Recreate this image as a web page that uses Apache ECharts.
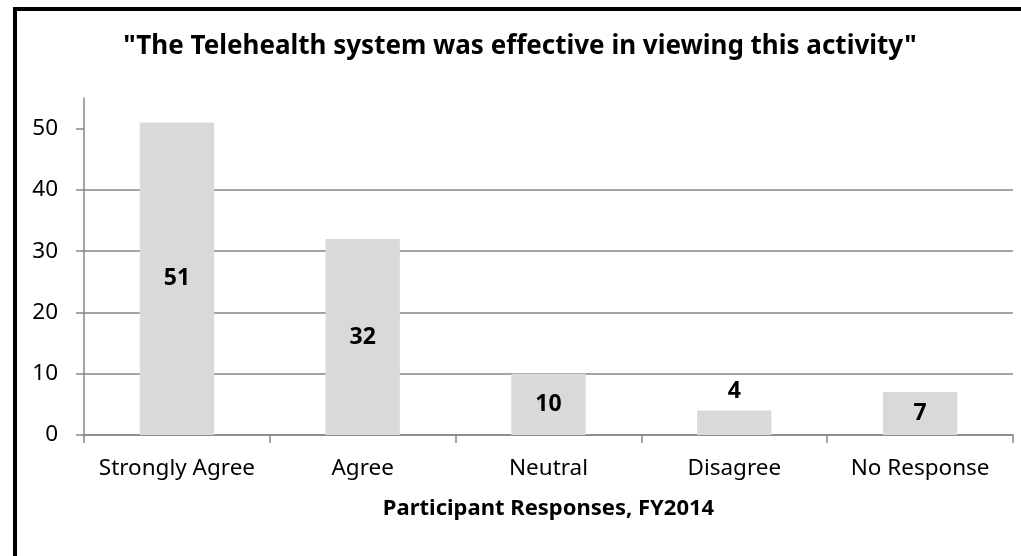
<!DOCTYPE html>
<html>
<head>
<meta charset="utf-8">
<script src="https://cdn.jsdelivr.net/npm/echarts@6/dist/echarts.min.js"></script>
<style>
html,body{margin:0;padding:0;background:#fff;overflow:hidden;}
#frame{position:absolute;left:13px;top:7px;width:1100px;height:600px;border-left:4px solid #000;border-top:4px solid #000;}
#chart{position:absolute;left:0;top:0;width:1021px;height:556px;}
</style>
</head>
<body>
<div id="frame"></div>
<div id="chart"></div>
<script>
const titleText = '"The Telehealth system was effective in viewing this activity"';
const xAxisName = 'Participant Responses, FY2014';
const categories = ['Strongly Agree', 'Agree', 'Neutral', 'Disagree', 'No Response'];
const values = [51, 32, 10, 4, 7];
const labelPositions = ['inside', 'inside', 'inside', 'top', 'inside'];
const yTicks = [0, 10, 20, 30, 40, 50];

const FONT = 'Noto Sans';
const chart = echarts.init(document.getElementById('chart'), null, {renderer: 'canvas'});
chart.setOption({
  backgroundColor: 'transparent',
  animation: false,
  title: {
    text: titleText,
    left: 515, top: 29, textAlign: 'center',
    textStyle: {fontFamily: FONT, fontSize: 26, fontWeight: 'bold', color: '#000'}
  },
  grid: {left: 84, right: 8, top: 98, bottom: 121, containLabel: false},
  xAxis: {
    type: 'category',
    data: categories,
    name: xAxisName,
    nameLocation: 'middle',
    nameGap: 63,
    nameTextStyle: {fontFamily: FONT, fontSize: 22, fontWeight: 'bold', color: '#000'},
    axisLine: {show: true, lineStyle: {color: '#868686', width: 1.5}},
    axisTick: {show: true, length: 8, alignWithLabel: false, lineStyle: {color: '#868686', width: 1.5}},
    axisLabel: {fontFamily: FONT, fontSize: 22.5, color: '#000', margin: 22, interval: 0},
    splitLine: {show: false}
  },
  yAxis: {
    type: 'value',
    min: 0, max: 55, interval: 10,
    axisLine: {show: true, lineStyle: {color: '#868686', width: 1.5}},
    axisTick: {show: true, length: 8, inside: false, customValues: yTicks, lineStyle: {color: '#868686', width: 1.5}},
    axisLabel: {fontFamily: FONT, fontSize: 22.5, color: '#000', margin: 26, customValues: yTicks},
    splitLine: {show: true, showMaxLine: false, lineStyle: {color: '#868686', width: 1.5}}
  },
  series: [{
    type: 'bar',
    barCategoryGap: '60%',
    itemStyle: {color: '#d9d9d9'},
    data: values.map((v, i) => ({
      value: v,
      label: {show: true, position: labelPositions[i], distance: 8}
    })),
    label: {
      show: true,
      fontFamily: FONT, fontSize: 23, fontWeight: 'bold', color: '#000'
    }
  }]
});
</script>
</body>
</html>
